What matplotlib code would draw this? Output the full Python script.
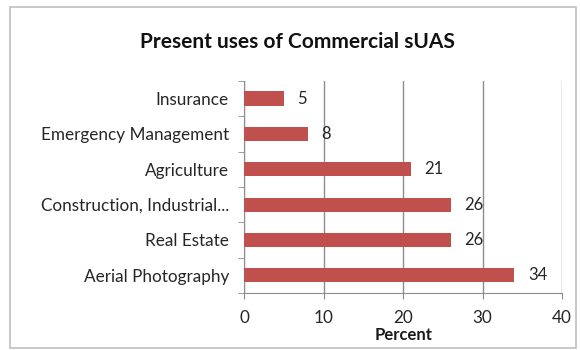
import numpy as np
import matplotlib.pyplot as plt
from matplotlib.patches import Rectangle

plt.rcParams['font.family'] = ['Lato', 'DejaVu Sans']

# data, bottom to top as drawn
categories = ["Aerial Photography", "Real Estate", "Construction, Industrial...",
              "Agriculture", "Emergency Management", "Insurance"]
percent = [34, 26, 26, 21, 8, 5]
xticks = [0, 10, 20, 30, 40]

barColor = "#C0504D"
gridColor = "#8C8C8C"
textColor = "#262626"

fig = plt.figure(figsize=(5.8, 3.5), dpi=100)
ax = fig.add_axes([0.421, 0.163, 0.548, 0.606])

# outer chart border
fig.patches.append(Rectangle((10 / 580, 2 / 350), 566 / 580, 341 / 350, transform=fig.transFigure,
                             fill=False, edgecolor="#BFBFBF", linewidth=1.2))

y = np.arange(len(categories))
ax.barh(y, percent, height=0.4, color=barColor, zorder=3)
for yi, v in zip(y, percent):
    ax.text(v + 1.7, yi, str(v), va="center", ha="left", fontsize=12, color=textColor)

ax.set_xlim(0, 40)
ax.set_ylim(-0.5, len(categories) - 0.5)
ax.set_xticks(xticks)
ax.set_yticks(y)
ax.set_yticklabels(categories, fontsize=12.3, color=textColor)
ax.set_yticks(np.arange(-0.5, len(categories)), minor=True)
ax.tick_params(axis="y", which="major", length=0, pad=11)
ax.tick_params(axis="y", which="minor", length=4, color=gridColor, direction="out")
ax.tick_params(axis="x", length=4, color=gridColor, labelsize=12.3, labelcolor=textColor, pad=8)

ax.grid(axis="x", color=gridColor, linewidth=1, zorder=0)
for s in ["top", "right"]:
    ax.spines[s].set_visible(False)
for s in ["left", "bottom"]:
    ax.spines[s].set_color(gridColor)

ax.set_xlabel("Percent", fontsize=12, weight="bold", color="#1a1a1a", labelpad=1)
fig.text(0.513, 0.88, "Present uses of Commercial sUAS", ha="center", va="center",
         fontsize=15, weight="bold", color="#111111")

plt.savefig("out.png", dpi=100)
